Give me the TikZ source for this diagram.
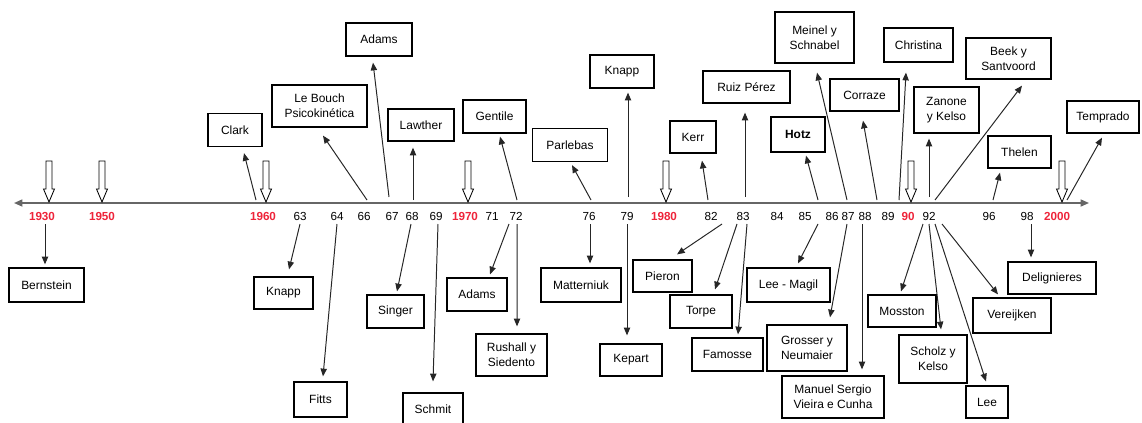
\documentclass[tikz,border=0pt]{standalone}
\usepackage{fontspec}
\setmainfont{Liberation Sans}
\usetikzlibrary{arrows.meta,calc}
\definecolor{yearred}{RGB}{238,36,58}

\begin{document}
\begin{tikzpicture}[x=0.025cm, y=-0.025cm,
    box/.style={draw, line width=0.9pt, align=center, inner sep=1pt,
        font=\fontsize{8.5}{10.5}\selectfont},
    boxsize/.style 2 args={minimum width=#1*0.025cm, minimum height=#2*0.025cm},
    yearlbl/.style={inner sep=1pt, font=\fontsize{8.3}{10}\selectfont},
    redyear/.style={yearlbl, text=yearred, font=\fontsize{8.3}{10}\selectfont\bfseries},
    link/.style={-{Triangle[length=5.5pt,width=4.5pt]}, line width=0.7pt, black!85},
    hollow/.style={line width=0.6pt, fill=white}]

    \useasboundingbox (0,0) rectangle (1142,422);

    % Time axis
    \coordinate (axl) at (14,203);
    \coordinate (axr) at (1089,203);
    \draw[{Triangle[length=6pt,width=5pt]}-{Triangle[length=6pt,width=5pt]}, line width=1.1pt, black!60] (axl) -- (axr);

    % Decade markers
    \foreach \h in {49,102,266,468,666,911,1062}
        \draw[hollow] ({\h-3},161) -- ({\h+3},161) -- ({\h+3},189) -- ({\h+5.5},189)
            -- (\h,202) -- ({\h-5.5},189) -- ({\h-3},189) -- cycle;

    % Years
    \foreach \px/\yr in {42/1930, 102/1950, 263/1960, 465/1970, 664/1980, 908/90, 1057/2000}
        \node[redyear] (y\yr) at (\px,216) {\yr};
    \foreach \px/\yr in {300/63, 337/64, 364/66, 392/67, 412/68, 436/69, 492/71, 516/72,
        589/76, 627/79, 711/82, 743/83, 777/84, 805/85, 832/86, 848/87, 865/88, 888/89,
        929/92, 989/96, 1027/98}
        \node[yearlbl] (y\yr) at (\px,216) {\yr};

    % Authors above the axis
    \node[box, boxsize={54}{33}] (clark) at (235,130) {Clark};
    \node[box, boxsize={95}{42}] (lebouch) at (319.5,106) {Le Bouch\\Psicokinética};
    \node[box, boxsize={66}{33}] (adamsA) at (379,39.5) {Adams};
    \node[box, boxsize={66}{32}] (lawther) at (421,125) {Lawther};
    \node[box, boxsize={63}{33}] (gentile) at (494.5,116.5) {Gentile};
    \node[box, boxsize={75}{33}] (parlebas) at (570,145) {Parlebas};
    \node[box, boxsize={64}{33}] (knappA) at (622,71.5) {Knapp};
    \node[box, boxsize={46}{32}] (kerr) at (693,137) {Kerr};
    \node[box, boxsize={87}{32}] (ruiz) at (746.5,87) {Ruiz Pérez};
    \node[box, boxsize={54}{35}, font=\fontsize{8.5}{10.5}\selectfont\bfseries] (hotz) at (798,134.5) {Hotz};
    \node[box, boxsize={79}{51}] (meinel) at (814.5,37.5) {Meinel y\\Schnabel};
    \node[box, boxsize={69}{32}] (corraze) at (864.5,95) {Corraze};
    \node[box, boxsize={69}{34}] (christina) at (918.5,45) {Christina};
    \node[box, boxsize={65}{46}] (zanone) at (946.5,110) {Zanone\\y Kelso};
    \node[box, boxsize={85}{41}] (beek) at (1008.5,58.5) {Beek y\\Santvoord};
    \node[box, boxsize={63}{32}] (thelen) at (1019.5,152) {Thelen};
    \node[box, boxsize={72}{32}] (temprado) at (1103,117) {Temprado};

    % Authors below the axis
    \node[box, boxsize={75}{34}] (bernstein) at (46.5,285) {Bernstein};
    \node[box, boxsize={59}{32}] (knappB) at (283.5,293) {Knapp};
    \node[box, boxsize={53}{35}] (fitts) at (320.5,399.5) {Fitts};
    \node[box, boxsize={57}{33}] (singer) at (395.5,311.5) {Singer};
    \node[box, boxsize={60}{33}] (schmit) at (433,409.5) {Schmit};
    \node[box, boxsize={60}{33}] (adamsB) at (477,294.5) {Adams};
    \node[box, boxsize={71}{42}] (rushall) at (511.5,355) {Rushall y\\Siedento};
    \node[box, boxsize={80}{34}] (matterniuk) at (581,285) {Matterniuk};
    \node[box, boxsize={59}{32}] (pieron) at (662.5,276) {Pieron};
    \node[box, boxsize={62}{32}] (kepart) at (631,360) {Kepart};
    \node[box, boxsize={62}{33}] (torpe) at (701,311.5) {Torpe};
    \node[box, boxsize={71}{33}] (famosse) at (727.5,354.5) {Famosse};
    \node[box, boxsize={83}{34}] (leemagil) at (788.5,285) {Lee - Magil};
    \node[box, boxsize={80}{46}] (grosser) at (807,348) {Grosser y\\Neumaier};
    \node[box, boxsize={102}{42}] (manuel) at (833,397) {Manuel Sergio\\Vieira e Cunha};
    \node[box, boxsize={68}{32}] (mosston) at (902,311) {Mosston};
    \node[box, boxsize={68}{48}] (scholz) at (933,359) {Scholz y\\Kelso};
    \node[box, boxsize={42}{32}] (lee) at (987,402) {Lee};
    \node[box, boxsize={78}{35}] (vereijken) at (1012,315.5) {Vereijken};
    \node[box, boxsize={88}{32}] (delignieres) at (1052,278) {Delignieres};

    % Upward links
    \draw[link] ($(y1960)+(-7,-16)$) -- ($(clark.south)+(9,6)$);
    \draw[link] ($(y66)+(3,-16)$) -- ($(lebouch.south)+(3.5,8)$);
    \draw[link] ($(y67)+(-3,-19)$) -- ($(adamsA.south)+(-6,6)$);
    \draw[link] ($(y68)+(1,-16)$) -- ($(lawther.south)+(-8,6)$);
    \draw[link] ($(y72)+(1,-16)$) -- ($(gentile.south)+(5.5,3)$);
    \draw[link] ($(y76)+(2,-16)$) -- ($(parlebas.south)+(2,3)$);
    \draw[link] ($(y79)+(1,-19)$) -- ($(knappA.south)+(6,4)$);
    \draw[link] ($(y82)+(-3,-16)$) -- ($(kerr.south)+(9,7)$);
    \draw[link] ($(y83)+(2,-19)$) -- ($(ruiz.south)+(-1.5,9)$);
    \draw[link] ($(y85)+(13,-16)$) -- ($(hotz.south)+(8,3)$);
    \draw[link] ($(y87)+(-1,-16)$) -- ($(meinel.south)+(2.5,9)$);
    \draw[link] ($(y88)+(12,-16)$) -- ($(corraze.south)+(-1.5,9)$);
    \draw[link] ($(y89)+(11,-16)$) -- ($(christina.south)+(-12.5,10)$);
    \draw[link] ($(y92)+(0,-19)$) -- ($(zanone.south)+(-17.5,5)$);
    \draw[link] ($(y92)+(6,-16)$) -- ($(beek.south)+(13.5,6)$);
    \draw[link] ($(y96)+(4,-16)$) -- ($(thelen.south)+(-19.5,4)$);
    \draw[link] ($(y2000)+(10,-16)$) -- ($(temprado.south)+(-1,4)$);

    % Downward links
    \draw[link] ($(y1930)+(3,8)$) -- ($(bernstein.north)+(-1.5,-3)$);
    \draw[link] ($(y63)+(0,8)$) -- ($(knappB.north)+(5.5,-7)$);
    \draw[link] ($(y64)+(0,8)$) -- ($(fitts.north)+(2.5,-5)$);
    \draw[link] ($(y68)+(-1,8)$) -- ($(singer.north)+(1.5,-3)$);
    \draw[link] ($(y69)+(2,8)$) -- ($(schmit.north)+(0,-11)$);
    \draw[link] ($(y72)+(-7,8)$) -- ($(adamsB.north)+(13,-3)$);
    \draw[link] ($(y72)+(1,8)$) -- ($(rushall.north)+(5.5,-7)$);
    \draw[link] ($(y76)+(1,8)$) -- ($(matterniuk.north)+(9,-4)$);
    \draw[link] ($(y79)+(0,8)$) -- ($(kepart.north)+(-4,-8)$);
    \draw[link] ($(y82)+(11,8)$) -- ($(pieron.north)+(14.5,-5)$);
    \draw[link] ($(y83)+(-6,8)$) -- ($(torpe.north)+(14,-5)$);
    \draw[link] ($(y83)+(4,8)$) -- ($(famosse.north)+(10.5,-3)$);
    \draw[link] ($(y85)+(13,8)$) -- ($(leemagil.north)+(9.5,-4)$);
    \draw[link] ($(y87)+(-1,8)$) -- ($(grosser.north)+(23,-7)$);
    \draw[link] ($(y88)+(-3,8)$) -- ($(manuel.north)+(29,-6)$);
    \draw[link] ($(y92)+(-6,8)$) -- ($(mosston.north)+(-1,-3)$);
    \draw[link] ($(y92)+(0,8)$) -- ($(scholz.north)+(8,-5)$);
    \draw[link] ($(y92)+(6,8)$) -- ($(lee.north)+(-1,-4)$);
    \draw[link] ($(y92)+(13,8)$) -- ($(vereijken.north)+(-14,-3)$);
    \draw[link] ($(y98)+(4,8)$) -- ($(delignieres.north)+(-21,-4)$);

\end{tikzpicture}
\end{document}
